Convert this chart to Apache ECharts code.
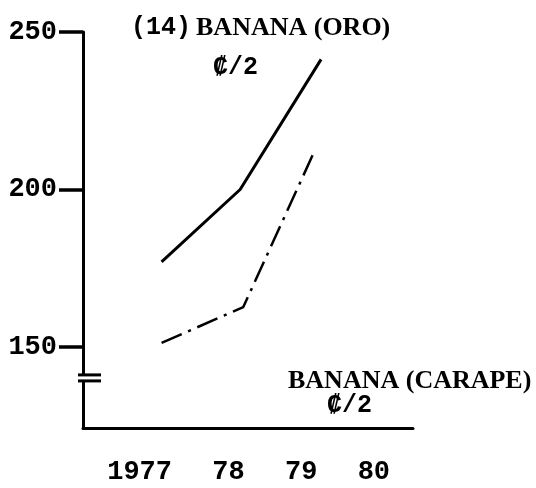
<!DOCTYPE html>
<html>
<head>
<meta charset="utf-8">
<script src="https://cdn.jsdelivr.net/npm/echarts@6/dist/echarts.min.js"></script>
<style>
  html, body { margin: 0; background: #fff; }
  #chart { width: 536px; height: 488px; }
</style>
</head>
<body>
<div id="chart"></div>
<script>
// values
const oroYears = [1977, 1978, 1979.03];
const oroPrices = [177, 200, 241.3];
const carapeYears = [1977, 1978.04, 1978.95];
const carapePrices = [151.3, 162.7, 212.4];
const yearTicks = [1977, 1978, 1979, 1980];
const yearLabels = ['1977', '78', '79', '80'];
const priceTicks = [150, 200, 250];
const breakAt = 140.2; // axis break sits between 150 and the x axis

const monoFont = '"Liberation Mono", "DejaVu Sans Mono", monospace';
const serifFont = '"Liberation Serif", "DejaVu Serif", serif';

const chart = echarts.init(document.getElementById('chart'));

chart.setOption({
  animation: false,
  backgroundColor: '#fff',
  grid: { left: 83, right: 123, top: 32, bottom: 60 },
  title: [
    {
      text: '{a|(14)} {b|BANANA (ORO)}',
      left: 126, top: 10,
      textStyle: {
        rich: {
          a: { fontFamily: monoFont, fontWeight: 'bold', fontSize: 25, color: '#000' },
          b: { fontFamily: serifFont, fontWeight: 'bold', fontSize: 26, color: '#000' }
        }
      }
    },
    {
      text: '₡/2',
      left: 208, top: 50,
      textStyle: { fontFamily: monoFont, fontWeight: 'bold', fontSize: 25, color: '#000' }
    },
    {
      text: 'BANANA (CARAPE)',
      left: 283, top: 363,
      textStyle: { fontFamily: serifFont, fontWeight: 'bold', fontSize: 26, color: '#000' }
    },
    {
      text: '₡/2',
      left: 322, top: 388,
      textStyle: { fontFamily: monoFont, fontWeight: 'bold', fontSize: 25, color: '#000' }
    }
  ],
  xAxis: [
    {
      // data axis
      type: 'value',
      min: 1976,
      max: 1980.2,
      axisLine: { show: true, onZero: false, lineStyle: { color: '#000', width: 3 } },
      axisTick: { show: false },
      axisLabel: { show: false },
      splitLine: { show: false }
    },
    {
      // label axis, typed labels sit a little off the data years
      type: 'value',
      min: 1975.775,
      max: 1980.316,
      position: 'bottom',
      axisLine: { show: false },
      axisTick: { show: false },
      splitLine: { show: false },
      axisLabel: {
        customValues: yearTicks,
        formatter: function (v) {
          return yearLabels[yearTicks.indexOf(Math.round(v))] || '';
        },
        align: 'right',
        verticalAlign: 'middle',
        margin: 44,
        color: '#000',
        fontFamily: monoFont,
        fontWeight: 'bold',
        fontSize: 27
      }
    }
  ],
  yAxis: {
    type: 'value',
    min: 124.3,
    max: 250,
    axisLine: { show: true, lineStyle: { color: '#000', width: 3 } },
    axisTick: {
      show: true,
      customValues: priceTicks,
      length: 24,
      lineStyle: { color: '#000', width: 3.5 }
    },
    axisLabel: {
      customValues: priceTicks,
      margin: 26,
      color: '#000',
      fontFamily: monoFont,
      fontWeight: 'bold',
      fontSize: 27
    },
    splitLine: { show: false }
  },
  series: [
    {
      name: 'Banana (Oro)',
      type: 'line',
      xAxisIndex: 0,
      data: oroYears.map((y, i) => [y, oroPrices[i]]),
      symbol: 'none',
      lineStyle: { color: '#000', width: 3 }
    },
    {
      name: 'Banana (Carape)',
      type: 'line',
      xAxisIndex: 0,
      data: carapeYears.map((y, i) => [y, carapePrices[i]]),
      symbol: 'none',
      lineStyle: { color: '#000', width: 2.5, type: [22, 7, 3, 7] }
    }
  ]
});

// axis break mark: white gap with two short bars
const bx = chart.convertToPixel({ xAxisIndex: 0 }, 1976);
const by = chart.convertToPixel({ yAxisIndex: 0 }, breakAt);
chart.setOption({
  graphic: [
    {
      type: 'rect',
      shape: { x: bx - 4, y: by - 3, width: 8, height: 6 },
      style: { fill: '#fff' },
      z: 100
    },
    {
      type: 'line',
      shape: { x1: bx - 5, y1: by - 3, x2: bx + 18, y2: by - 3 },
      style: { stroke: '#000', lineWidth: 3 },
      z: 101
    },
    {
      type: 'line',
      shape: { x1: bx - 5, y1: by + 3, x2: bx + 18, y2: by + 3 },
      style: { stroke: '#000', lineWidth: 3 },
      z: 101
    }
  ]
});
</script>
</body>
</html>
